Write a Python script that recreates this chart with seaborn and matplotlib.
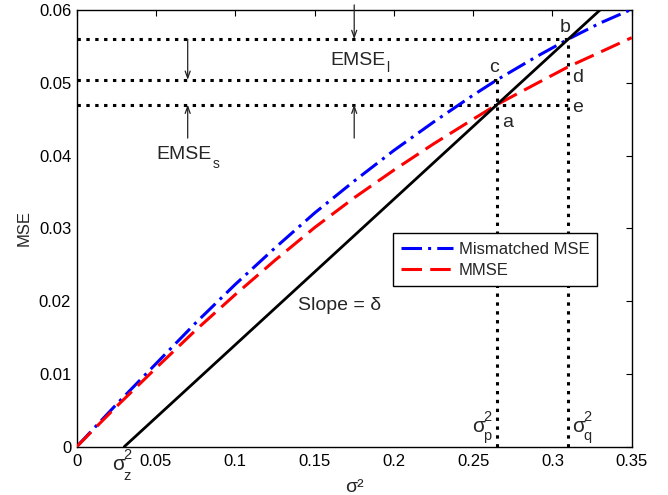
import numpy as np
import pandas as pd
import seaborn as sns
import matplotlib
matplotlib.use("Agg")
import matplotlib.pyplot as plt

# ---- data ----
sigma2 = [0, 0.025, 0.05, 0.075, 0.1, 0.125, 0.15, 0.175, 0.2, 0.225, 0.25, 0.265, 0.29, 0.31, 0.33, 0.35]
mismatched_mse = [0, 0.0058, 0.0114, 0.0170, 0.0223, 0.0273, 0.0321, 0.0365, 0.0407, 0.0446, 0.0483,
                  0.0504, 0.0536, 0.0560, 0.0582, 0.0601]
mmse = [0, 0.0055, 0.0108, 0.0160, 0.0209, 0.0256, 0.0301, 0.0342, 0.0380, 0.0416, 0.0450,
        0.0470, 0.0499, 0.0522, 0.0542, 0.0562]
slope_x = [0.03, 0.33]      # line of slope delta starting at sigma_z^2
slope_y = [0.0, 0.06]
sigma_p2 = 0.265
sigma_q2 = 0.31
level_b = 0.056
level_c = 0.0504
level_a = 0.047
xticks = [0, 0.05, 0.1, 0.15, 0.2, 0.25, 0.3, 0.35]
xticklabels = ["0", "0.05", "0.1", "0.15", "0.2", "0.25", "0.3", "0.35"]
yticks = [0, 0.01, 0.02, 0.03, 0.04, 0.05, 0.06]
yticklabels = ["0", "0.01", "0.02", "0.03", "0.04", "0.05", "0.06"]

df = pd.DataFrame({"sigma2": sigma2, "mis": mismatched_mse, "mmse": mmse})
df_line = pd.DataFrame({"x": slope_x, "y": slope_y})

sns.set_style("white")
plt.rcParams["font.family"] = ["Liberation Sans", "DejaVu Sans"]

fig = plt.figure(figsize=(6.68, 4.95), dpi=100)
ax = fig.add_axes([0.1148, 0.0976, 0.8309, 0.8822])

dot_ls = (0, (1.1, 1.8))
dot_kw = dict(color="black", lw=2.2, linestyle=dot_ls, dash_capstyle="butt", zorder=2)
# horizontal dotted levels
ax.plot([0, sigma_q2], [level_b, level_b], **dot_kw)
ax.plot([0, sigma_p2], [level_c, level_c], **dot_kw)
ax.plot([0, sigma_q2], [level_a, level_a], **dot_kw)
# vertical dotted lines
ax.plot([sigma_p2, sigma_p2], [0, level_c], **dot_kw)
ax.plot([sigma_q2, sigma_q2], [0, level_b], **dot_kw)

sns.lineplot(data=df_line, x="x", y="y", ax=ax, color="black", lw=2.0, zorder=4)
sns.lineplot(data=df, x="sigma2", y="mis", ax=ax, color="#0000ff", lw=2.2,
             linestyle=(0, (6.7, 2.0, 1.0, 2.0)), label="Mismatched MSE", zorder=3)
sns.lineplot(data=df, x="sigma2", y="mmse", ax=ax, color="#ff0000", lw=2.2,
             linestyle=(0, (6.7, 2.7)), label="MMSE", zorder=3)

ax.set_xlim(0, 0.35)
ax.set_ylim(0, 0.06)
ax.set_xticks(xticks)
ax.set_xticklabels(xticklabels)
ax.set_yticks(yticks)
ax.set_yticklabels(yticklabels)
ax.tick_params(direction="in", length=4, width=0.8, top=True, right=True,
               labelsize=12, colors="black")
ax.tick_params(axis="x", pad=5)
ax.tick_params(axis="y", pad=4)
for s in ax.spines.values():
    s.set_visible(True)
    s.set_color("black")
    s.set_linewidth(1.0)

ax.set_xlabel("σ²", fontsize=14, labelpad=7.5)
ax.set_ylabel("MSE", fontsize=12, labelpad=5)

# arrows
akw = dict(arrowstyle="->,head_length=0.5,head_width=0.18", lw=0.9, color="#222222",
           shrinkA=0, shrinkB=0)
ax.annotate("", xy=(0.07, level_c), xytext=(0.07, level_b), arrowprops=akw)
ax.annotate("", xy=(0.07, level_a), xytext=(0.07, 0.0424), arrowprops=akw)
ax.annotate("", xy=(0.175, level_b), xytext=(0.175, 0.0607), arrowprops=akw,
            annotation_clip=False)
ax.annotate("", xy=(0.175, level_a), xytext=(0.175, 0.0424), arrowprops=akw)

fs = 14


def label_with_scripts(x, y, base, fsz, sup=None, sub=None, sfs=10.5,
                       sx=8.4, sup_dy=8.0, sub_dy=-6.5):
    ax.annotate(base, (x, y), xytext=(0, 0), textcoords="offset points",
                fontsize=fsz, va="baseline", ha="left", annotation_clip=False)
    if sup is not None:
        ax.annotate(sup, (x, y), xytext=(sx, sup_dy), textcoords="offset points",
                    fontsize=sfs, va="baseline", ha="left", annotation_clip=False)
    if sub is not None:
        ax.annotate(sub, (x, y), xytext=(sx, sub_dy), textcoords="offset points",
                    fontsize=sfs, va="baseline", ha="left", annotation_clip=False)


label_with_scripts(0.16, 0.05245, "EMSE", fs, sub="l", sfs=10, sx=40.0, sub_dy=-5.0)
label_with_scripts(0.0505, 0.0395, "EMSE", fs, sub="s", sfs=10, sx=40.5, sub_dy=-6.5)
ax.text(0.1398, 0.01878, "Slope = δ", fontsize=fs, va="baseline", ha="left")
ax.text(0.2684, 0.04397, "a", fontsize=fs, va="baseline", ha="left")
ax.text(0.3044, 0.05694, "b", fontsize=fs, va="baseline", ha="left")
ax.text(0.2600, 0.05153, "c", fontsize=fs, va="baseline", ha="left")
ax.text(0.3126, 0.05015, "d", fontsize=fs, va="baseline", ha="left")
ax.text(0.3126, 0.04603, "e", fontsize=fs, va="baseline", ha="left")
label_with_scripts(0.0221, -0.0032, "σ", 15, sup="2", sub="z", sup_dy=8.2, sub_dy=-7.0)
label_with_scripts(0.2491, 0.00206, "σ", 15, sup="2", sub="p", sup_dy=7.6, sub_dy=-6.2)
label_with_scripts(0.3122, 0.00206, "σ", 15, sup="2", sub="q", sup_dy=7.6, sub_dy=-6.2)

leg = ax.legend(loc="upper left", bbox_to_anchor=(0.569, 0.4887), fontsize=12,
                frameon=True, fancybox=False, edgecolor="black", framealpha=1,
                handlelength=3.1, handletextpad=0.36, borderpad=0.5, labelspacing=0.38,
                borderaxespad=0)
leg.get_frame().set_linewidth(1.0)

fig.savefig("out.png", dpi=100)
